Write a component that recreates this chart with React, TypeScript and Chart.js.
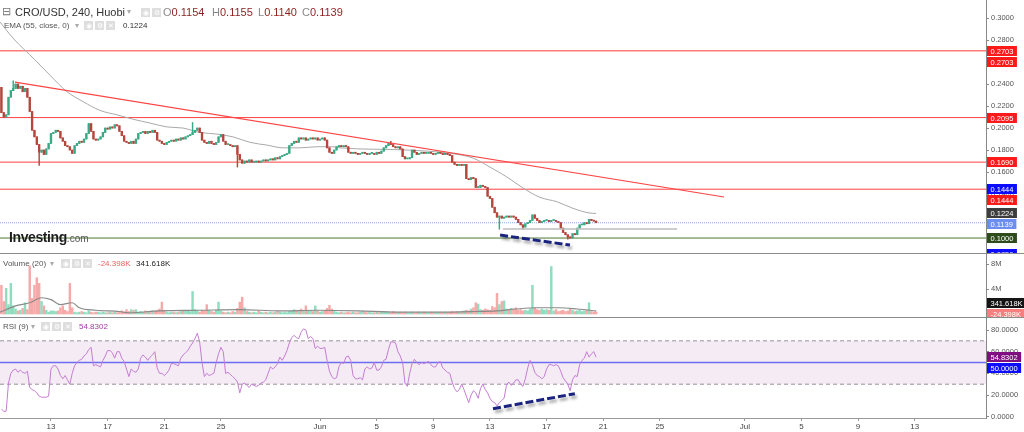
import React, { useEffect, useRef } from 'react';
import { Chart, registerables } from 'chart.js';

Chart.register(...registerables);

const FONT = '"Liberation Sans", Arial, Helvetica, sans-serif';

// ---------------- DATA ----------------
// 4h candles (240 min) starting May 9, 12:00 ; day numbers: May = day-of-month, Jun 1 = 32, Jul 1 = 62
const startDay = 9.5;
const barsPerDay = 6;
const firstOpen = 0.237;

const closes = [
  0.214, 0.210, 0.212, 0.228, 0.234, 0.236,
  0.240, 0.236, 0.238, 0.233, 0.236, 0.228,
  0.215, 0.198, 0.192, 0.185, 0.178, 0.180,
  0.176, 0.181, 0.186, 0.195, 0.196, 0.198,
  0.197, 0.191, 0.188, 0.184, 0.183, 0.180,
  0.177, 0.184, 0.186, 0.188, 0.187, 0.190,
  0.195, 0.204, 0.197, 0.190, 0.189, 0.190,
  0.192, 0.196, 0.200, 0.199, 0.201, 0.200,
  0.203, 0.202, 0.197, 0.193, 0.188, 0.187,
  0.186, 0.188, 0.186, 0.190, 0.195, 0.196,
  0.197, 0.195, 0.197, 0.196, 0.198, 0.196,
  0.189, 0.188, 0.186, 0.185, 0.187, 0.188,
  0.189, 0.188, 0.190, 0.189, 0.191, 0.190,
  0.192, 0.193, 0.194, 0.196, 0.198, 0.200,
  0.196, 0.189, 0.187, 0.186, 0.188, 0.186,
  0.185, 0.187, 0.192, 0.194, 0.188, 0.185,
  0.185, 0.184, 0.183, 0.184, 0.176, 0.171,
  0.168, 0.170, 0.169, 0.171, 0.169, 0.169,
  0.170, 0.169, 0.170, 0.171, 0.170, 0.171,
  0.172, 0.171, 0.173, 0.172, 0.174, 0.175,
  0.176, 0.177, 0.184, 0.186, 0.188, 0.187,
  0.191, 0.190, 0.191, 0.189, 0.190, 0.191,
  0.190, 0.191, 0.189, 0.190, 0.191, 0.189,
  0.182, 0.178, 0.177, 0.180, 0.183, 0.184,
  0.183, 0.184, 0.183, 0.178, 0.177, 0.178,
  0.177, 0.176, 0.177, 0.178, 0.177, 0.176,
  0.177, 0.177, 0.176, 0.178, 0.177, 0.179,
  0.182, 0.184, 0.186, 0.185, 0.183, 0.182,
  0.183, 0.181, 0.174, 0.172, 0.172, 0.173,
  0.180, 0.178, 0.176, 0.177, 0.178, 0.177,
  0.177, 0.178, 0.177, 0.176, 0.177, 0.178,
  0.177, 0.176, 0.177, 0.176, 0.175, 0.169,
  0.167, 0.166, 0.167, 0.166, 0.167, 0.154,
  0.153, 0.155, 0.154, 0.146, 0.146, 0.148,
  0.147, 0.146, 0.138, 0.136, 0.128, 0.123,
  0.119, 0.120, 0.118, 0.119, 0.120, 0.119,
  0.120, 0.119, 0.117, 0.114, 0.112, 0.110,
  0.113, 0.114, 0.116, 0.121, 0.118, 0.116,
  0.114, 0.115, 0.116, 0.116, 0.115, 0.116,
  0.116, 0.115, 0.114, 0.109, 0.105, 0.103,
  0.101, 0.100, 0.104, 0.103, 0.109, 0.112,
  0.112, 0.114, 0.113, 0.117, 0.116, 0.1154,
  0.1139,
];

// extra wick extremes: [candle index, price]
const wickHighs = [[5, 0.243], [81, 0.205], [165, 0.188], [252, 0.1155]];
const wickLows = [[16, 0.166], [100, 0.1645], [211, 0.108], [221, 0.108], [240, 0.099], [252, 0.1140]];

// volume in millions
const volumesM = [
  4.6, 2.0, 4.1, 1.5, 4.9, 1.3,
  0.8, 0.5, 0.6, 0.9, 1.8, 0.7,
  7.7, 2.5, 4.6, 5.8, 4.9, 2.0,
  1.3, 0.6, 0.3, 0.5, 0.5, 0.4,
  0.5, 1.0, 1.3, 0.6, 0.4, 4.9,
  1.0, 0.3, 0.2, 0.3, 0.4, 0.3,
  0.2, 0.5, 0.3, 0.2, 0.3, 0.3,
  0.2, 0.3, 0.2, 0.2, 0.3, 0.2,
  0.3, 0.2, 0.3, 0.5, 0.3, 0.7,
  0.4, 0.7, 0.6, 0.7, 0.3, 0.4,
  0.3, 0.5, 0.4, 0.3, 0.5, 0.4,
  0.6, 0.8, 1.9, 0.6, 0.3, 0.2,
  0.3, 0.3, 0.2, 0.3, 0.4, 0.5,
  0.6, 0.5, 0.4, 3.6, 0.7, 0.5,
  0.3, 0.6, 0.5, 1.5, 0.6, 0.4,
  0.3, 0.6, 1.9, 0.5, 0.3, 0.2,
  0.3, 0.2, 0.4, 0.3, 0.9, 1.9,
  2.7, 1.0, 0.4, 0.3, 0.2, 0.3,
  0.2, 0.5, 0.3, 0.2, 0.3, 0.2,
  0.3, 0.2, 0.3, 0.4, 0.3, 0.2,
  0.3, 0.2, 0.4, 0.5, 0.7, 0.6,
  0.4, 0.8, 0.6, 1.3, 0.5, 0.6,
  0.4, 1.3, 0.5, 0.3, 0.4, 0.6,
  0.9, 1.4, 0.8, 0.4, 0.3, 0.2,
  0.3, 0.2, 0.2, 0.3, 0.2, 0.3,
  0.2, 0.2, 0.3, 0.4, 0.3, 0.2,
  0.3, 0.2, 0.2, 0.3, 0.2, 0.3,
  0.4, 0.3, 0.3, 0.2, 0.4, 0.3,
  0.2, 0.3, 0.2, 0.3, 0.2, 0.2,
  0.3, 0.2, 0.2, 0.3, 0.2, 0.3,
  0.2, 0.2, 0.3, 0.2, 0.3, 0.2,
  0.3, 0.2, 0.3, 0.2, 0.3, 0.4,
  0.3, 0.4, 0.3, 0.4, 0.5, 0.6,
  0.5, 0.8, 1.0, 1.8, 1.6, 0.7,
  0.6, 0.8, 0.7, 0.6, 1.2, 1.0,
  3.3, 1.5, 2.0, 2.1, 0.8, 0.7,
  0.9, 0.8, 1.0, 0.6, 0.7, 0.5,
  0.6, 0.5, 0.8, 4.6, 1.0, 0.7,
  0.6, 0.8, 0.6, 0.7, 0.6, 7.6,
  0.5, 0.7, 0.4, 0.5, 0.6, 0.4,
  0.5, 0.8, 0.6, 0.4, 0.5, 0.6,
  0.4, 0.5, 0.6, 1.8, 0.4, 0.3,
  0.341618,
];
const volumeDeltaM = -0.024398;

// Volume MA(20) points: [candle index], [millions]
const volMaIdx = [-0.6, 6, 12, 17, 21, 25, 30, 33, 40, 50, 54, 67, 84, 101, 118, 134, 151, 168, 185, 201, 210, 218, 227, 236, 244, 252];
const volMaVal = [0.3, 1.3, 1.8, 2.6, 2.3, 1.5, 1.8, 1.0, 0.6, 0.4, 0.2, 0.5, 0.6, 0.7, 0.5, 0.6, 0.5, 0.3, 0.3, 0.4, 0.5, 0.8, 1.0, 1.0, 0.8, 0.5];

// EMA(55) points
const emaIdx = [-0.6, 4.9, 14.2, 20.6, 27.8, 34.6, 41.8, 49, 55.8, 63, 70.2, 76.9, 84.1, 91.3, 98.1, 105.3, 112.5, 119.3, 126.5, 133.7, 140.5, 143.5, 171.9, 190.1, 199.8, 207, 214.2, 221, 228.2, 235.4, 242.2, 249.4, 252];
const emaVal = [0.2964, 0.2818, 0.262, 0.248, 0.233, 0.224, 0.216, 0.212, 0.208, 0.2045, 0.201, 0.200, 0.196, 0.1945, 0.192, 0.187, 0.1845, 0.182, 0.182, 0.183, 0.183, 0.182, 0.180, 0.177, 0.1727, 0.1645, 0.1555, 0.1455, 0.137, 0.133, 0.127, 0.1227, 0.1224];

// RSI(9) per candle
const rsi9 = [
  7, 5, 5, 31, 40, 43, 44, 41, 43, 41, 40, 42,
  27, 25, 24, 22, 19, 18, 18, 18, 19, 44, 47, 47,
  44, 38, 35, 38, 34, 30, 40, 47, 50, 52, 53, 56,
  58, 62, 64, 47, 48, 47, 46, 52, 56, 61, 61, 59,
  54, 60, 60, 54, 51, 44, 37, 44, 42, 41, 44, 54,
  57, 55, 52, 55, 57, 60, 45, 40, 40, 38, 40, 43,
  49, 49, 48, 47, 54, 57, 59, 61, 65, 68, 72, 77,
  69, 50, 37, 40, 38, 39, 40, 50, 58, 64, 60, 40,
  41, 39, 37, 35, 32, 22, 30, 31, 29, 27, 30, 29,
  28, 29, 31, 32, 34, 40, 46, 44, 46, 49, 55, 52,
  56, 61, 68, 73, 75, 73, 72, 78, 81, 80, 72, 74,
  72, 63, 65, 63, 63, 64, 52, 42, 37, 35, 36, 46,
  50, 49, 55, 56, 52, 38, 35, 35, 36, 34, 44, 46,
  44, 45, 50, 43, 43, 46, 52, 53, 62, 69, 69, 68,
  60, 56, 50, 31, 28, 40, 49, 53, 50, 48, 50, 49,
  50, 51, 48, 46, 46, 50, 51, 45, 43, 41, 40, 32,
  26, 23, 25, 30, 25, 19, 13, 20, 24, 22, 17, 26,
  30, 25, 22, 17, 14, 13, 10, 13, 15, 17, 29, 32,
  29, 31, 34, 34, 30, 28, 35, 45, 52, 48, 41, 38,
  37, 35, 37, 44, 48, 48, 47, 48, 47, 42, 36, 33,
  30, 24, 34, 38, 37, 48, 52, 54, 60, 55, 58, 60,
  54.8302,
];

// drawn levels / lines
const resistanceLevels = [0.2703, 0.2095, 0.1690, 0.1444];
const supportLevel = 0.1000;
const hiddenLevels = [0.1444, 0.0856];
const trendLine = [[5.75, 0.2418], [306.2, 0.1373]];
const baseLine = [[212.5, 0.1082], [286.3, 0.1082]];
const priceDivergence = [[211.3, 0.1027], [240.9, 0.0936]];
const rsiDivergence = [[208.3, 7.4], [243.0, 21.2]];
const rsiUpper = 70;
const rsiMid = 50;
const rsiLower = 30;

// axis ticks
const tickDays = [13, 17, 21, 25, 32, 36, 40, 44, 48, 52, 56, 62, 66, 70, 74];
const tickLabels = ['13', '17', '21', '25', 'Jun', '5', '9', '13', '17', '21', '25', 'Jul', '5', '9', '13'];
const priceTicks = [0.10, 0.12, 0.14, 0.16, 0.18, 0.20, 0.22, 0.24, 0.26, 0.28, 0.30];
const volumeTicks = [4, 8];
const rsiTicks = [0, 20, 40, 60, 80];

// ---------------- helpers ----------------
const X_MIN = -0.6;
const X_MAX = 417.2;
const dayToIndex = (d: number) => (d - startDay) * barsPerDay;

const opens = closes.map((c, i) => (i === 0 ? firstOpen : closes[i - 1]));
const highs = closes.map((c, i) => Math.max(c, opens[i]));
const lows = closes.map((c, i) => Math.min(c, opens[i]));
wickHighs.forEach(([i, v]) => { highs[i] = v; });
wickLows.forEach(([i, v]) => { lows[i] = v; });
const isUp = (i: number) => closes[i] >= opens[i];
const last = closes.length - 1;

const UP = '#3aa985';
const DOWN = '#b5463c';
const VOL_UP = '#8fdcbf';
const VOL_DOWN = '#f6a9a9';

const pts = (arr: number[][]) => arr.map(([x, y]) => ({ x, y }));
const hline = (v: number) => [{ x: X_MIN, y: v }, { x: X_MAX, y: v }];

function xAxis(show: boolean): any {
  return {
    type: 'linear',
    min: X_MIN,
    max: X_MAX,
    offset: false,
    display: show,
    afterBuildTicks: (s: any) => { s.ticks = tickDays.map((d) => ({ value: dayToIndex(d) })); },
    afterFit: (s: any) => { s.height = show ? 14 : 0; s.paddingLeft = 0; s.paddingRight = 0; },
    ticks: {
      autoSkip: false,
      maxRotation: 0,
      padding: 1,
      color: '#444',
      font: { size: 8, family: FONT },
      callback: (_v: any, i: number) => tickLabels[i],
    },
    grid: { display: true, drawOnChartArea: false, drawTicks: true, tickLength: 3, color: '#999' },
    border: { display: true, color: '#999', width: 1 },
  };
}

function yAxis(min: number, max: number, ticks: number[], fmt: (v: number) => string): any {
  return {
    position: 'right',
    min,
    max,
    afterBuildTicks: (s: any) => { s.ticks = ticks.map((v) => ({ value: v })); },
    afterFit: (s: any) => { s.width = 38; s.paddingTop = 0; s.paddingBottom = 0; },
    ticks: { color: '#555', font: { size: 7.5, family: FONT }, padding: 2, callback: (_v: any, i: number) => fmt(ticks[i]) },
    grid: { drawOnChartArea: false, drawTicks: true, tickLength: 3, color: '#888' },
    border: { display: true, color: '#888', width: 1 },
  };
}

const labelBoxPlugin = {
  id: 'labelBoxes',
  afterDraw(chart: any, _args: any, opts: any) {
    const items = (opts && opts.items) || [];
    if (!items.length) return;
    const scale = chart.scales.y;
    const ctx = chart.ctx;
    const h = 10;
    const step = 11;
    const placed = items.map((it: any) => ({ ...it, py: scale.getPixelForValue(it.value) }));
    if (opts.direction === 'up') {
      placed.sort((a: any, b: any) => b.py - a.py);
      for (let k = 1; k < placed.length; k++) placed[k].py = Math.min(placed[k].py, placed[k - 1].py - step);
    } else {
      placed.sort((a: any, b: any) => a.py - b.py);
      for (let k = 1; k < placed.length; k++) placed[k].py = Math.max(placed[k].py, placed[k - 1].py + step);
    }
    ctx.save();
    ctx.font = `7.5px ${FONT}`;
    ctx.textBaseline = 'middle';
    ctx.textAlign = 'left';
    placed.forEach((it: any) => {
      const w = ctx.measureText(it.text).width + 7;
      ctx.fillStyle = it.bg;
      ctx.fillRect(scale.left + 1, Math.round(it.py - h / 2), w, h);
      ctx.fillStyle = '#fff';
      ctx.fillText(it.text, scale.left + 4.5, Math.round(it.py - h / 2) + h / 2 + 0.5);
    });
    ctx.restore();
  },
};

const separatorPlugin = {
  id: 'panelSeparator',
  afterDraw(chart: any, _a: any, opts: any) {
    if (!opts || !opts.top) return;
    const ctx = chart.ctx;
    ctx.save();
    ctx.strokeStyle = '#8c8c8c';
    ctx.lineWidth = 1;
    ctx.beginPath();
    ctx.moveTo(0, 0.5);
    ctx.lineTo(chart.width, 0.5);
    ctx.stroke();
    ctx.restore();
  },
};

const shadowPlugin = {
  id: 'dsShadow',
  beforeDatasetDraw(chart: any, args: any) {
    const ds: any = chart.data.datasets[args.index];
    if (ds.shadow) {
      const c = chart.ctx;
      c.save();
      c.shadowColor = 'rgba(0,0,0,0.35)';
      c.shadowBlur = 3;
      c.shadowOffsetX = 2;
      c.shadowOffsetY = 3;
    }
  },
  afterDatasetDraw(chart: any, args: any) {
    const ds: any = chart.data.datasets[args.index];
    if (ds.shadow) chart.ctx.restore();
  },
};

const baseOptions = (extraPlugins: any) => ({
  responsive: false,
  maintainAspectRatio: false,
  animation: false,
  devicePixelRatio: 1,
  events: [],
  layout: { padding: 0 },
  plugins: { legend: { display: false }, tooltip: { enabled: false }, ...extraPlugins },
});

const lineDs = (label: string, data: any[], color: string, width: number, extra: any = {}) => ({
  type: 'line',
  label,
  data,
  borderColor: color,
  borderWidth: width,
  pointRadius: 0,
  fill: false,
  tension: 0,
  ...extra,
});

// ---------------- COMPONENTS ----------------
const Icon = ({ ch }: { ch: string }) => (
  <span
    style={{
      display: 'inline-block',
      width: 9,
      height: 9,
      background: '#dedede',
      color: '#fff',
      fontSize: 7,
      lineHeight: '9px',
      textAlign: 'center',
      marginRight: 2,
      verticalAlign: 'top',
    }}
  >
    {ch}
  </span>
);

const abs = (left: number, top: number, extra: any = {}): any => ({
  position: 'absolute',
  left,
  top,
  whiteSpace: 'nowrap',
  fontFamily: FONT,
  ...extra,
});

export default function App() {
  const priceRef = useRef<HTMLCanvasElement>(null);
  const volRef = useRef<HTMLCanvasElement>(null);
  const rsiRef = useRef<HTMLCanvasElement>(null);

  useEffect(() => {
    const charts: Chart[] = [];
    const plugins = [labelBoxPlugin, separatorPlugin, shadowPlugin];

    // ---- price panel ----
    const priceLabels = [
      { value: resistanceLevels[0], text: resistanceLevels[0].toFixed(4), bg: '#ff1a1a' },
      { value: resistanceLevels[0], text: resistanceLevels[0].toFixed(4), bg: '#ff1a1a' },
      { value: resistanceLevels[1], text: resistanceLevels[1].toFixed(4), bg: '#ff1a1a' },
      { value: resistanceLevels[2], text: resistanceLevels[2].toFixed(4), bg: '#ff1a1a' },
      { value: hiddenLevels[0], text: hiddenLevels[0].toFixed(4), bg: '#0c0cff' },
      { value: resistanceLevels[3], text: resistanceLevels[3].toFixed(4), bg: '#ff1a1a' },
      { value: emaVal[emaVal.length - 1], text: emaVal[emaVal.length - 1].toFixed(4), bg: '#3d3d3d' },
      { value: closes[last], text: closes[last].toFixed(4), bg: '#6b8ef0' },
      { value: supportLevel, text: supportLevel.toFixed(4), bg: '#2e4b1c' },
      { value: hiddenLevels[1], text: hiddenLevels[1].toFixed(4), bg: '#0c0cff' },
    ];

    charts.push(
      new Chart(priceRef.current as HTMLCanvasElement, {
        type: 'bar',
        data: {
          datasets: [
            lineDs('trend', pts(trendLine), '#ff4545', 1.2, { order: 0 }),
            lineDs('divergence', pts(priceDivergence), '#1b2380', 3, { order: 0, borderDash: [8, 3], shadow: true }),
            lineDs('base', pts(baseLine), '#bdbdbd', 1.5, { order: 0 }),
            {
              type: 'bar',
              label: 'body',
              data: closes.map((c, i) => ({ x: i, y: [opens[i], c] })),
              backgroundColor: (ctx: any) => (isUp(ctx.dataIndex) ? UP : DOWN),
              barThickness: 1.7,
              minBarLength: 1,
              grouped: false,
              borderWidth: 0,
              order: 1,
            },
            {
              type: 'bar',
              label: 'wick',
              data: closes.map((_c, i) => ({ x: i, y: [lows[i], highs[i]] })),
              backgroundColor: (ctx: any) => (isUp(ctx.dataIndex) ? UP : DOWN),
              barThickness: 0.8,
              grouped: false,
              borderWidth: 0,
              order: 2,
            },
            lineDs('EMA 55', emaIdx.map((x, k) => ({ x, y: emaVal[k] })), '#a9a9a9', 1, { order: 3, cubicInterpolationMode: 'monotone' }),
            lineDs('r0', hline(resistanceLevels[0]), '#ff7a7a', 1.5, { order: 5 }),
            lineDs('r1', hline(resistanceLevels[1]), '#ff4040', 1, { order: 5 }),
            lineDs('r2', hline(resistanceLevels[2]), '#ff4040', 1, { order: 5 }),
            lineDs('r3', hline(resistanceLevels[3]), '#ff4040', 1, { order: 5 }),
            lineDs('s', hline(supportLevel), '#4e7a34', 1, { order: 5 }),
            lineDs('last', hline(closes[last]), '#90a8f0', 1, { order: 5, borderDash: [1, 1] }),
          ] as any,
        },
        options: {
          ...baseOptions({ labelBoxes: { items: priceLabels, direction: 'down' }, panelSeparator: { top: false } }),
          scales: {
            x: xAxis(false),
            y: yAxis(0.0864, 0.3164, priceTicks, (v) => v.toFixed(4)),
          },
        } as any,
        plugins,
      })
    );

    // ---- volume panel ----
    charts.push(
      new Chart(volRef.current as HTMLCanvasElement, {
        type: 'bar',
        data: {
          datasets: [
            lineDs('Volume MA 20', volMaIdx.map((x, k) => ({ x, y: volMaVal[k] })), '#8a8a8a', 1.2, { order: 0, cubicInterpolationMode: 'monotone' }),
            {
              type: 'bar',
              label: 'Volume',
              data: volumesM.map((v, i) => ({ x: i, y: v })),
              backgroundColor: (ctx: any) => (isUp(ctx.dataIndex) ? VOL_UP : VOL_DOWN),
              barThickness: 1.8,
              grouped: false,
              borderWidth: 0,
              order: 1,
            },
          ] as any,
        },
        options: {
          ...baseOptions({
            labelBoxes: {
              items: [
                { value: volumesM[last], text: (volumesM[last] * 1000).toFixed(3) + 'K', bg: '#151515' },
                { value: volumeDeltaM, text: (volumeDeltaM * 1000).toFixed(3) + 'K', bg: '#f77f7f' },
              ],
              direction: 'up',
            },
            panelSeparator: { top: true },
          }),
          scales: {
            x: xAxis(false),
            y: yAxis(-0.48, 9.76, volumeTicks, (v) => v + 'M'),
          },
        } as any,
        plugins,
      })
    );

    // ---- RSI panel ----
    charts.push(
      new Chart(rsiRef.current as HTMLCanvasElement, {
        type: 'line',
        data: {
          datasets: [
            lineDs('divergence', pts(rsiDivergence), '#1b2380', 3, { order: 0, borderDash: [8, 3], shadow: true }),
            lineDs('RSI 9', rsi9.map((v, i) => ({ x: i, y: v })), '#c47dd2', 1, { order: 1 }),
            lineDs('mid', hline(rsiMid), '#6d6df2', 1.3, { order: 2 }),
            lineDs('upper', hline(rsiUpper), '#9a909a', 1, { order: 3, borderDash: [4, 3], fill: '+1', backgroundColor: 'rgba(150,60,150,0.10)' }),
            lineDs('lower', hline(rsiLower), '#9a909a', 1, { order: 4, borderDash: [4, 3] }),
          ] as any,
        },
        options: {
          ...baseOptions({
            labelBoxes: {
              items: [
                { value: rsi9[last], text: rsi9[last].toFixed(4), bg: '#7f0f80' },
                { value: rsiMid, text: rsiMid.toFixed(4), bg: '#0d0dff' },
              ],
              direction: 'down',
            },
            panelSeparator: { top: true },
          }),
          scales: {
            x: xAxis(true),
            y: yAxis(-1.2, 92.0, rsiTicks, (v) => v.toFixed(4)),
          },
        } as any,
        plugins,
      })
    );

    return () => charts.forEach((c) => c.destroy());
  }, []);

  const hdr = { fontSize: 8, color: '#555' };
  const valColor = '#8e1f1f';
  const ohlc = [
    ['O', opens[last]],
    ['H', highs[last]],
    ['L', lows[last]],
    ['C', closes[last]],
  ] as [string, number][];
  const ohlcLeft = [163, 212, 258, 302];

  return (
    <div style={{ position: 'fixed', left: 0, top: 0, width: 1024, height: 432, background: '#fff', overflow: 'hidden' }}>
      <canvas ref={priceRef} width={1024} height={253} style={{ position: 'absolute', left: 0, top: 0, display: 'block' }} />
      <canvas ref={volRef} width={1024} height={64} style={{ position: 'absolute', left: 0, top: 253, display: 'block' }} />
      <canvas ref={rsiRef} width={1024} height={115} style={{ position: 'absolute', left: 0, top: 317, display: 'block' }} />

      {/* price header */}
      <div style={abs(2, 6, { fontSize: 11, color: '#777', lineHeight: '11px' })}>⊟</div>
      <div style={abs(15, 7, { fontSize: 11, color: '#333', lineHeight: '11px' })}>CRO/USD, 240, Huobi</div>
      <div style={abs(127, 8, { fontSize: 8, color: '#aaa', lineHeight: '8px' })}>▾</div>
      <div style={abs(141, 8, { lineHeight: '9px' })}>
        <Icon ch="◉" />
        <Icon ch="⚙" />
      </div>
      {ohlc.map(([k, v], n) => (
        <div key={k} style={abs(ohlcLeft[n], 7, { fontSize: 11, lineHeight: '11px' })}>
          <span style={{ color: '#888' }}>{k}</span>
          <span style={{ color: valColor }}>{v.toFixed(4)}</span>
        </div>
      ))}
      <div style={abs(4, 22, { ...hdr, lineHeight: '8px' })}>EMA (55, close, 0)</div>
      <div style={abs(75, 22, { fontSize: 8, color: '#aaa', lineHeight: '8px' })}>▾</div>
      <div style={abs(84, 21, { lineHeight: '9px' })}>
        <Icon ch="◉" />
        <Icon ch="⚙" />
        <Icon ch="✕" />
      </div>
      <div style={abs(123, 22, { fontSize: 8, color: '#333', lineHeight: '8px' })}>{emaVal[emaVal.length - 1].toFixed(4)}</div>

      {/* watermark */}
      <div style={abs(9, 229, { lineHeight: '15px' })}>
        <span style={{ fontSize: 14, fontWeight: 'bold', color: '#1e1e1e', letterSpacing: -0.4 }}>Investing</span>
        <span style={{ fontSize: 10, color: '#555' }}>.com</span>
      </div>

      {/* volume header */}
      <div style={abs(3, 260, { ...hdr, lineHeight: '8px' })}>Volume (20)</div>
      <div style={abs(50, 260, { fontSize: 8, color: '#aaa', lineHeight: '8px' })}>▾</div>
      <div style={abs(61, 259, { lineHeight: '9px' })}>
        <Icon ch="◉" />
        <Icon ch="⚙" />
        <Icon ch="✕" />
      </div>
      <div style={abs(98, 260, { fontSize: 8, color: '#f06060', lineHeight: '8px' })}>{(volumeDeltaM * 1000).toFixed(3)}K</div>
      <div style={abs(136, 260, { fontSize: 8, color: '#222', lineHeight: '8px' })}>{(volumesM[last] * 1000).toFixed(3)}K</div>

      {/* RSI header */}
      <div style={abs(3, 323, { ...hdr, lineHeight: '8px' })}>RSI (9)</div>
      <div style={abs(31, 323, { fontSize: 8, color: '#aaa', lineHeight: '8px' })}>▾</div>
      <div style={abs(41, 322, { lineHeight: '9px' })}>
        <Icon ch="◉" />
        <Icon ch="⚙" />
        <Icon ch="✕" />
      </div>
      <div style={abs(79, 323, { fontSize: 8, color: '#a03ca0', lineHeight: '8px' })}>{rsi9[last].toFixed(4)}</div>
    </div>
  );
}
